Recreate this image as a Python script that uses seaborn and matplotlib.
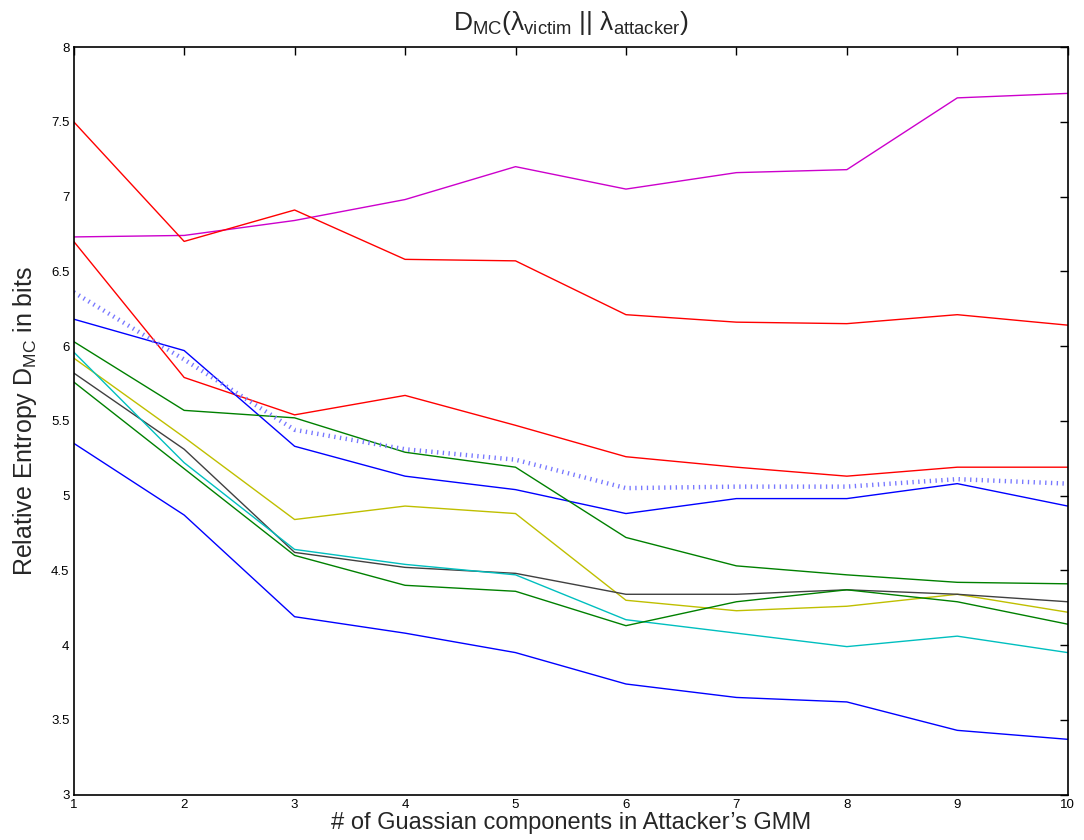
import numpy as np
import pandas as pd
import matplotlib
matplotlib.use("Agg")
import matplotlib.pyplot as plt
import seaborn as sns

components = [1, 2, 3, 4, 5, 6, 7, 8, 9, 10]

magenta = [6.73, 6.74, 6.84, 6.98, 7.20, 7.05, 7.16, 7.18, 7.66, 7.69]
red_top = [7.50, 6.70, 6.91, 6.58, 6.57, 6.21, 6.16, 6.15, 6.21, 6.14]
red_mid = [6.70, 5.79, 5.54, 5.67, 5.47, 5.26, 5.19, 5.13, 5.19, 5.19]
mean_dotted = [6.36, 5.91, 5.44, 5.31, 5.24, 5.05, 5.06, 5.06, 5.11, 5.08]
blue_top = [6.18, 5.97, 5.33, 5.13, 5.04, 4.88, 4.98, 4.98, 5.08, 4.93]
green_top = [6.03, 5.57, 5.52, 5.29, 5.19, 4.72, 4.53, 4.47, 4.42, 4.41]
yellow = [5.92, 5.39, 4.84, 4.93, 4.88, 4.30, 4.23, 4.26, 4.34, 4.22]
gray = [5.82, 5.31, 4.62, 4.52, 4.48, 4.34, 4.34, 4.37, 4.34, 4.29]
cyan = [5.96, 5.22, 4.64, 4.54, 4.47, 4.17, 4.08, 3.99, 4.06, 3.95]
green_low = [5.76, 5.18, 4.60, 4.40, 4.36, 4.13, 4.29, 4.37, 4.29, 4.14]
blue_low = [5.35, 4.87, 4.19, 4.08, 3.95, 3.74, 3.65, 3.62, 3.43, 3.37]

y_ticks = [3, 3.5, 4, 4.5, 5, 5.5, 6, 6.5, 7, 7.5, 8]
y_tick_labels = ["3", "3.5", "4", "4.5", "5", "5.5", "6", "6.5", "7", "7.5", "8"]

series = [
    (magenta, "#cc00cc"),
    (red_top, "#ff0000"),
    (red_mid, "#ff0000"),
    (blue_top, "#0000ff"),
    (green_top, "#008000"),
    (yellow, "#bfbf00"),
    (gray, "#404040"),
    (cyan, "#00bfbf"),
    (green_low, "#008000"),
    (blue_low, "#0000ff"),
]

sns.set_style("white")
plt.rcParams["font.family"] = ["Liberation Sans", "DejaVu Sans"]
plt.rcParams["mathtext.fontset"] = "custom"
plt.rcParams["mathtext.rm"] = "Liberation Sans"
plt.rcParams["mathtext.it"] = "Liberation Sans"

fig = plt.figure(figsize=(10.84, 8.4), dpi=100)
ax = fig.add_axes([0.068, 0.054, 0.917, 0.890])

for vals, col in series:
    df = pd.DataFrame({"x": components, "y": vals})
    sns.lineplot(data=df, x="x", y="y", color=col, linewidth=1.0, ax=ax)

df_mean = pd.DataFrame({"x": components, "y": mean_dotted})
sns.lineplot(data=df_mean, x="x", y="y", color="#7878ff", linewidth=3.2,
             linestyle=(0, (0.3, 1.0)), ax=ax)

ax.set_xlim(1, 10)
ax.set_ylim(3, 8)
ax.set_xticks(components)
ax.set_xticklabels([str(c) for c in components], fontsize=9.5)
ax.set_yticks(y_ticks)
ax.set_yticklabels(y_tick_labels, fontsize=9.5)
ax.tick_params(direction="in", top=True, right=True, length=6, width=1, colors="black", pad=3)
for s in ax.spines.values():
    s.set_color("black")
    s.set_linewidth(1.2)

ax.set_xlabel("# of Guassian components in Attacker\u2019s GMM", fontsize=17, labelpad=1)
ax.set_ylabel(r"Relative Entropy D$_{\mathrm{MC}}$ in bits", fontsize=18, labelpad=9)
ax.set_title(r"D$_{\mathrm{MC}}$($\lambda_{\mathrm{victim}}$ || $\lambda_{\mathrm{attacker}}$)", fontsize=19, pad=12)

fig.savefig("out.png", dpi=100)
